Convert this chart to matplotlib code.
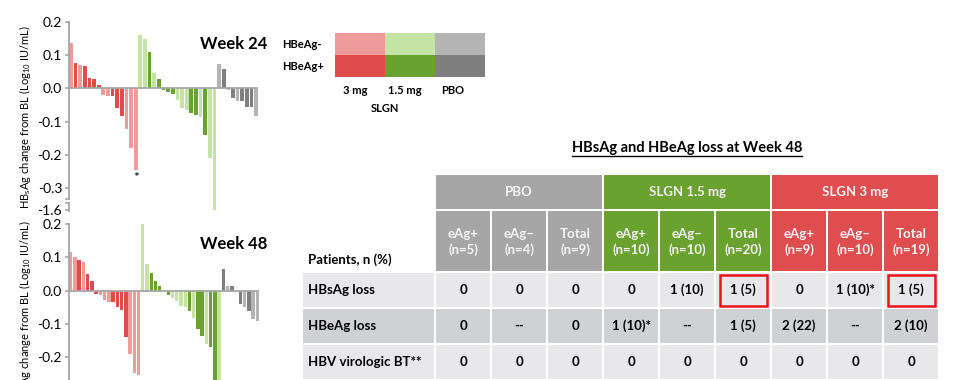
import numpy as np
import matplotlib
matplotlib.use('Agg')
import matplotlib.pyplot as plt
from matplotlib.patches import Rectangle

plt.rcParams['font.family'] = ['Lato', 'DejaVu Sans']
plt.rcParams['mathtext.fontset'] = 'custom'
plt.rcParams['mathtext.rm'] = 'Lato'
plt.rcParams['mathtext.bf'] = 'Lato:bold'
plt.rcParams['axes.unicode_minus'] = False

# --- waterfall data (HBsAg change from baseline, log10 IU/mL) ---
# 1 = HBeAg+ (dark shade), 0 = HBeAg- (light shade)
w24_3mg = [0.137, 0.078, 0.071, 0.068, 0.032, 0.027, 0.011, -0.019, -0.023, -0.023,
           -0.058, -0.082, -0.123, -0.178, -0.245]
w24_3mg_pos = [0, 1, 0, 1, 1, 1, 1, 0, 0, 1, 1, 1, 0, 0, 0]
w24_15mg = [0.161, 0.150, 0.109, 0.045, 0.027, -0.005, -0.010, -0.018, -0.034, -0.060,
            -0.064, -0.073, -0.081, -0.086, -0.139, -0.210, -1.60]
w24_15mg_pos = [0, 0, 1, 0, 1, 1, 1, 1, 0, 0, 0, 1, 1, 0, 1, 0, 0]
w24_pbo = [0.073, 0.058, -0.004, -0.028, -0.039, -0.039, -0.057, -0.057, -0.082]
w24_pbo_pos = [0, 1, 0, 1, 0, 1, 1, 1, 0]
w24_star = 14  # 3 mg bar marked with *

w48_3mg = [0.116, 0.101, 0.091, 0.087, 0.050, 0.029, -0.009, -0.014, -0.027, -0.034,
           -0.035, -0.049, -0.059, -0.139, -0.189, -0.247, -0.254]
w48_3mg_pos = [0, 0, 1, 0, 1, 1, 1, 0, 0, 0, 1, 1, 1, 1, 0, 0, 0]
w48_15mg = [0.202, 0.080, 0.054, 0.029, 0.015, -0.003, -0.014, -0.021, -0.031, -0.045,
            -0.048, -0.061, -0.083, -0.116, -0.136, -0.160, -0.170, -0.40, -0.36]
w48_15mg_pos = [0, 0, 1, 1, 1, 0, 1, 0, 0, 0, 0, 1, 0, 1, 1, 0, 1, 1, 0]
w48_pbo = [0.064, 0.015, 0.013, -0.002, -0.041, -0.048, -0.061, -0.086, -0.091]
w48_pbo_pos = [1, 0, 1, 1, 1, 0, 1, 0, 0]

# --- table data ---
tbl_title = 'HBsAg and HBeAg loss at Week 48'
tbl_groups = ['PBO', 'SLGN 1.5 mg', 'SLGN 3 mg']
tbl_cols = ['eAg+\n(n=5)', 'eAg\u2013\n(n=4)', 'Total\n(n=9)',
            'eAg+\n(n=10)', 'eAg\u2013\n(n=10)', 'Total\n(n=20)',
            'eAg+\n(n=9)', 'eAg\u2013\n(n=10)', 'Total\n(n=19)']
tbl_rows = ['HBsAg loss', 'HBeAg loss', 'HBV virologic BT**']
tbl_vals = [['0', '0', '0', '0', '1 (10)', '1 (5)', '0', '1 (10)*', '1 (5)'],
            ['0', '--', '0', '1 (10)*', '--', '1 (5)', '2 (22)', '--', '2 (10)'],
            ['0', '0', '0', '0', '0', '0', '0', '0', '0']]
tbl_boxed = [(0, 5), (0, 8)]

# colours
red_l, red_d = '#f09b9b', '#e04b4b'
grn_l, grn_d = '#c5e3a5', '#69a22e'
gry_l, gry_d = '#b4b4b4', '#7f7f7f'
axis_gray = '#a6a6a6'
hdr_cols = ['#a6a6a6', '#69a22e', '#e04d4e']
row_cols = ['#e8e8eb', '#d0d1d5', '#e8e8eb']

fig = plt.figure(figsize=(9.8, 3.8), dpi=100)


def fwd(y):
    y = np.asarray(y, float)
    return np.where(y >= -0.32, y, -0.32 + (y + 0.32) * 0.035)


def inv(y):
    y = np.asarray(y, float)
    return np.where(y >= -0.32, y, -0.32 + (y + 0.32) / 0.035)


def waterfall(ax, groups):
    vals, cols = [], []
    for v, pos, (cl, cd) in groups:
        vals += v
        cols += [cd if p else cl for p in pos]
    x = np.arange(len(vals))
    ax.bar(x, vals, width=0.8, color=cols, linewidth=0)
    ax.set_xlim(-0.4, len(vals) - 0.6)
    ax.axhline(0, color=axis_gray, lw=1.3, zorder=3)
    for s in ['top', 'right', 'bottom']:
        ax.spines[s].set_visible(False)
    ax.spines['left'].set_color(axis_gray)
    ax.spines['left'].set_linewidth(1.3)
    ax.tick_params(axis='x', bottom=False, labelbottom=False)
    ax.tick_params(axis='y', color=axis_gray, length=3, width=1.2, labelsize=10, pad=2)
    ax.set_ylabel(r'HB$_\mathrm{s}$Ag change from BL (Log$_{10}$ IU/mL)', fontsize=8, labelpad=3)
    return x


# Week 24 (broken axis)
ax1 = fig.add_axes([69 / 980, 1 - 211 / 380, 189 / 980, 189 / 380])
ax1.set_yscale('function', functions=(fwd, inv))
x1 = waterfall(ax1, [(w24_3mg, w24_3mg_pos, (red_l, red_d)),
                     (w24_15mg, w24_15mg_pos, (grn_l, grn_d)),
                     (w24_pbo, w24_pbo_pos, (gry_l, gry_d))])
ax1.set_ylim(-1.72, 0.2)
ticks24 = [0.2, 0.1, 0.0, -0.1, -0.2, -0.3, -1.6]
ax1.set_yticks(ticks24)
ax1.set_yticklabels(['%.1f' % t for t in ticks24])
ax1.spines['left'].set_bounds(-0.69, 0.2)
tr = ax1.get_yaxis_transform()
ax1.plot([0, 0], [-1.03, -1.72], transform=tr, color=axis_gray, lw=1.3, clip_on=False)
ax1.plot([0, -0.016], [-0.69, -0.69], transform=tr, color=axis_gray, lw=1.2, clip_on=False)
ax1.plot([0, -0.016], [-1.03, -1.03], transform=tr, color=axis_gray, lw=1.2, clip_on=False)
ax1.text(x1[w24_star], w24_3mg[w24_star] - 0.006, '*', ha='center', va='top', fontsize=10)

# Week 48 (axis runs past the bottom edge)
ax2 = fig.add_axes([69 / 980, 1 - 400.6 / 380, 190 / 980, 176.6 / 380])
waterfall(ax2, [(w48_3mg, w48_3mg_pos, (red_l, red_d)),
                (w48_15mg, w48_15mg_pos, (grn_l, grn_d)),
                (w48_pbo, w48_pbo_pos, (gry_l, gry_d))])
ax2.set_ylim(-0.33, 0.2)
ticks48 = [0.2, 0.1, 0.0, -0.1, -0.2]
ax2.set_yticks(ticks48)
ax2.set_yticklabels(['%.1f' % t for t in ticks48])

fig.text(234 / 980, 1 - 44 / 380, 'Week 24', fontsize=12, fontweight='bold', ha='center', va='center')
fig.text(234 / 980, 1 - 244 / 380, 'Week 48', fontsize=12, fontweight='bold', ha='center', va='center')

# overlay in pixel coordinates for legend and table
tab = fig.add_axes([0, 0, 1, 1])
tab.set_xlim(0, 980)
tab.set_ylim(380, 0)
tab.axis('off')
tab.patch.set_alpha(0)

# legend block
leg_light = [red_l, grn_l, gry_l]
leg_dark = [red_d, grn_d, gry_d]
leg_labels = ['3 mg', '1.5 mg', 'PBO']
for i in range(3):
    x0 = 335 + i * 50
    tab.add_patch(Rectangle((x0, 33), 50, 22, color=leg_light[i], lw=0))
    tab.add_patch(Rectangle((x0, 55), 50, 22, color=leg_dark[i], lw=0))
    tab.text(x0 + 20 if i < 2 else x0 + 18, 90, leg_labels[i], ha='center', va='center',
             fontsize=8, fontweight='bold')
tab.text(282, 45, 'HBeAg-', ha='left', va='center', fontsize=8, fontweight='bold')
tab.text(282, 67, 'HBeAg+', ha='left', va='center', fontsize=8, fontweight='bold')
tab.text(385, 109, 'SLGN', ha='center', va='center', fontsize=8, fontweight='bold')

# table
col_x = 435 + 56 * np.arange(10)
lab_x0 = 302
hdr1 = (174, 210)
hdr2 = (210, 272)
body_y = [272, 308, 344, 380]
g = 1.3  # half white gap

title = tab.text(687, 148, tbl_title, ha='center', va='center', fontsize=10.5, fontweight='bold')

for k, name in enumerate(tbl_groups):
    xa, xb = col_x[3 * k], col_x[3 * k + 3]
    tab.add_patch(Rectangle((xa + g, hdr1[0] + g), xb - xa - 2 * g, hdr1[1] - hdr1[0] - 2 * g,
                            color=hdr_cols[k], lw=0))
    tab.text((xa + xb) / 2, (hdr1[0] + hdr1[1]) / 2, name, ha='center', va='center',
             color='#f4f4f4', fontsize=9.5, fontweight='bold')
    for j in range(3):
        c = 3 * k + j
        tab.add_patch(Rectangle((col_x[c] + g, hdr2[0] + g), 56 - 2 * g, hdr2[1] - hdr2[0] - 2 * g,
                                color=hdr_cols[k], lw=0))
        tab.text(col_x[c] + 28, (hdr2[0] + hdr2[1]) / 2 + 1, tbl_cols[c], ha='center', va='center',
                 color='#f4f4f4', fontsize=9.5, fontweight='bold', linespacing=1.25)

tab.text(308, 260, 'Patients, n (%)', ha='left', va='center', fontsize=9.5, fontweight='bold')

for r, rname in enumerate(tbl_rows):
    ya, yb = body_y[r], body_y[r + 1]
    tab.add_patch(Rectangle((lab_x0 + g, ya + g), col_x[0] - lab_x0 - 2 * g, yb - ya - 2 * g,
                            color=row_cols[r], lw=0))
    tab.text(308, (ya + yb) / 2, rname, ha='left', va='center', fontsize=9.5, fontweight='bold')
    for c in range(9):
        tab.add_patch(Rectangle((col_x[c] + g, ya + g), 56 - 2 * g, yb - ya - 2 * g,
                                color=row_cols[r], lw=0))
        tab.text(col_x[c] + 28, (ya + yb) / 2, tbl_vals[r][c], ha='center', va='center',
                 fontsize=9.5, fontweight='bold')

for r, c in tbl_boxed:
    ya, yb = body_y[r], body_y[r + 1]
    tab.add_patch(Rectangle((col_x[c] + 4.5, ya + 2.5), 47, yb - ya - 5, fill=False,
                            edgecolor='#e8141a', lw=1.8))

# underline the table title
fig.canvas.draw()
bb = title.get_window_extent()
tab.plot([bb.x0, bb.x1], [380 - bb.y0 + 1, 380 - bb.y0 + 1], color='black', lw=1)

fig.savefig('out.png', dpi=100)
